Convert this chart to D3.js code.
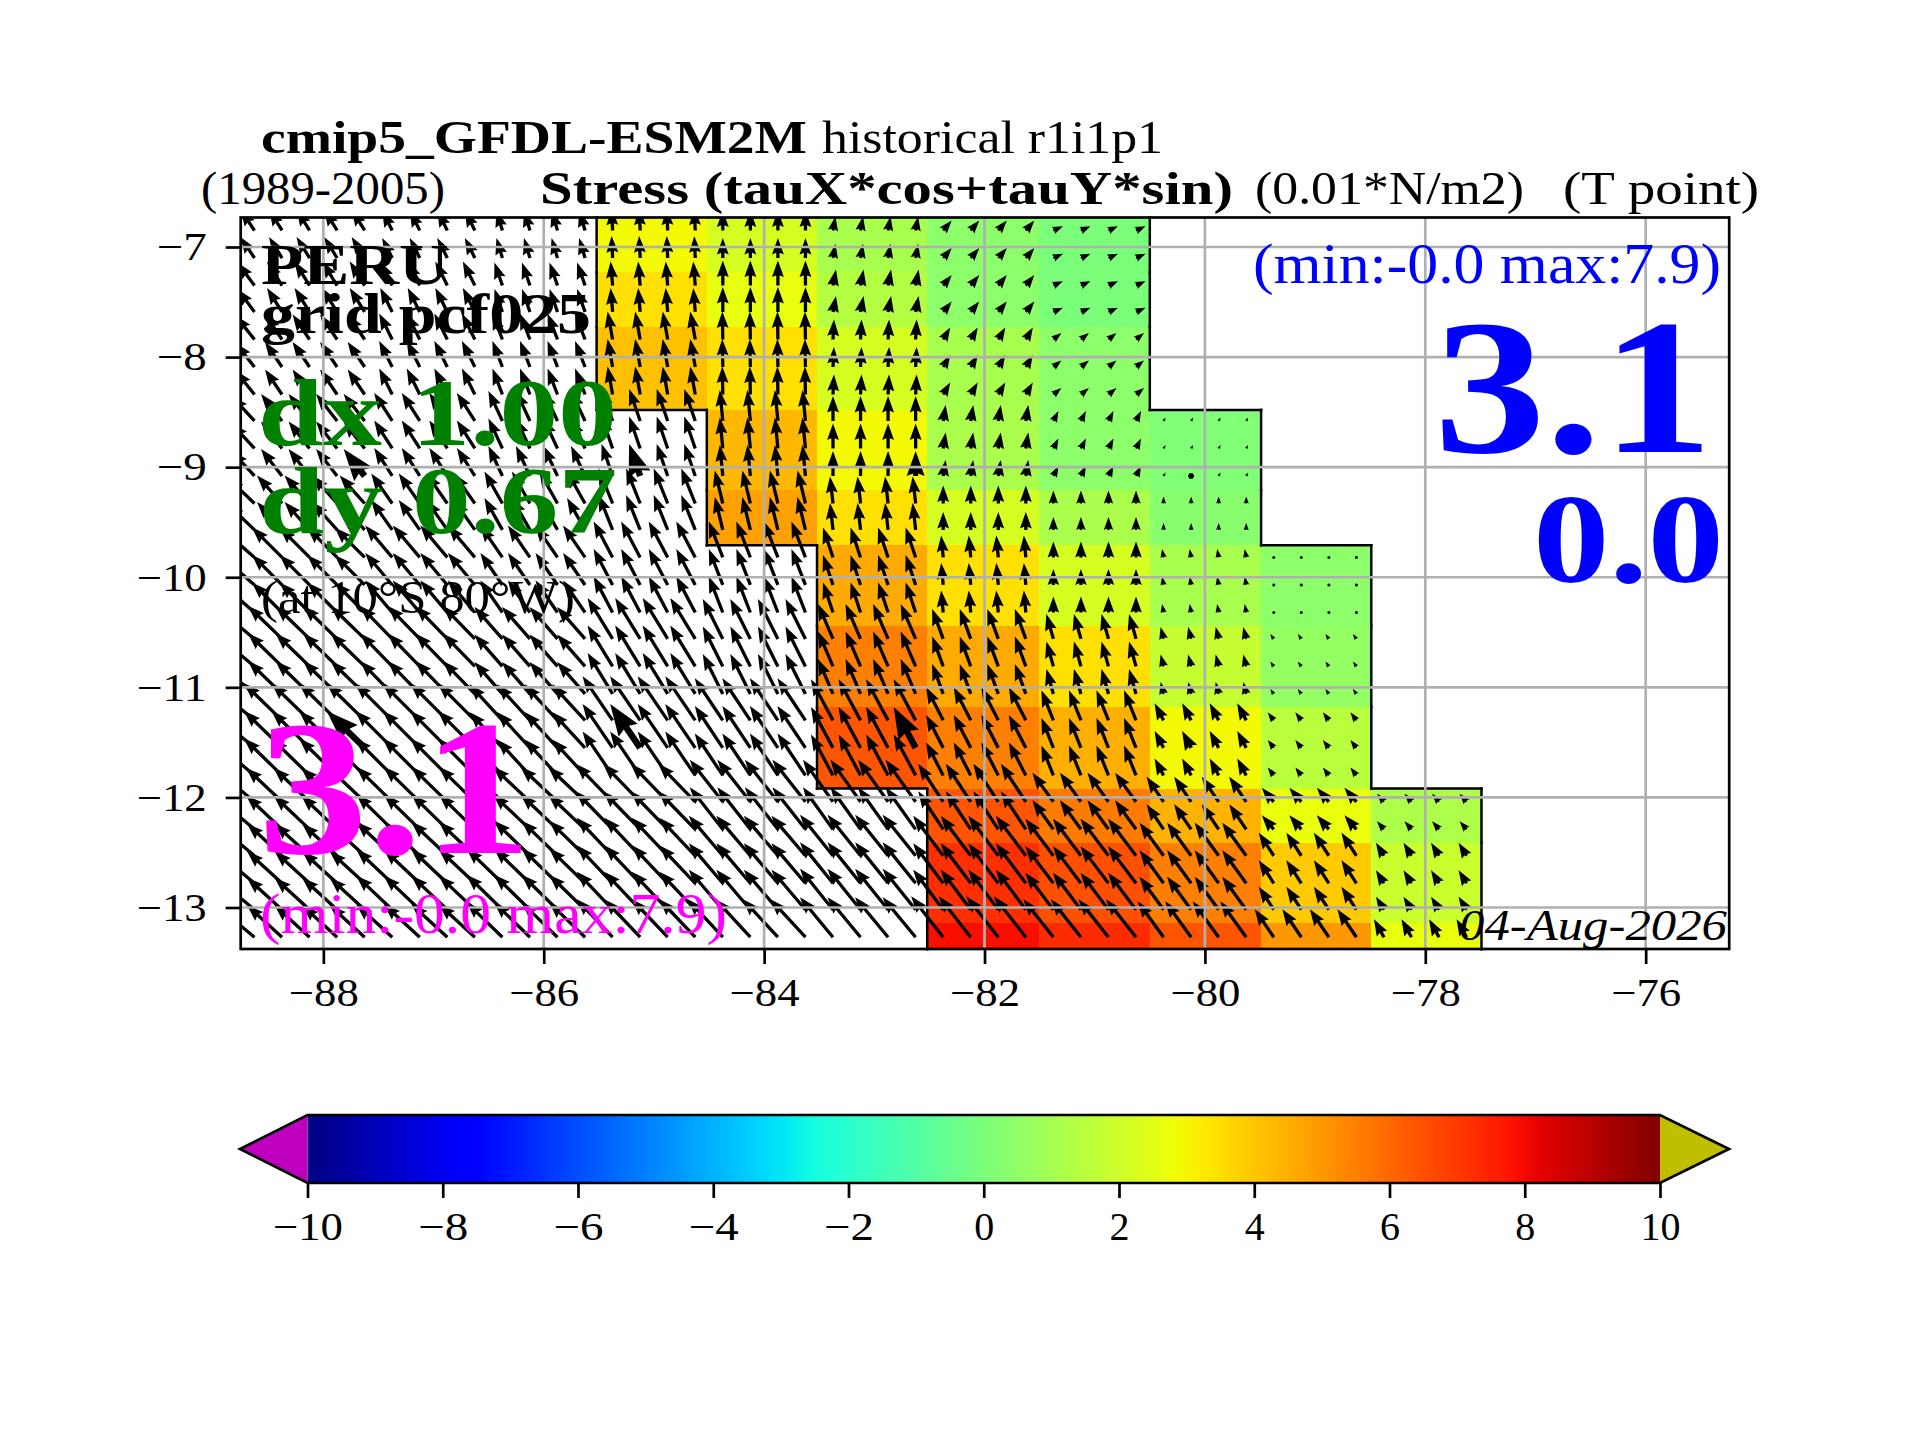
<!DOCTYPE html>
<html>
<head>
	<meta charset="utf-8">
	<title>cmip5 wind stress PERU</title>
	<script src="https://d3js.org/d3.v7.min.js"></script>
	<style>
		body { margin: 0; background: #fff; }
		svg { display: block; }
		text { font-family: "Liberation Serif", serif; }
	</style>
</head>
<body>
	<svg id="fig" width="1920" height="1440"></svg>
	<script type="text/javascript">
		// coarse (1 x 0.67 deg) grid cell edges
		var lonEdges = [-88.75, -88.5, -87.5, -86.5, -85.52, -84.52, -83.52, -82.52, -81.51, -80.5, -79.49, -78.49, -77.49];
		var latEdges = [-6.73, -7.23, -7.73, -8.48, -9.21, -9.71, -10.44, -11.18, -11.92, -12.41, -13.14, -13.38];

		// quarter degree nodes where an arrow is drawn
		var lonNodes = [-88.625, -88.375, -88.125, -87.875, -87.625, -87.375, -87.125, -86.875, -86.625,
			-86.375, -86.125, -85.875, -85.625, -85.375, -85.125, -84.875, -84.625, -84.375, -84.125,
			-83.875, -83.625, -83.375, -83.125, -82.875, -82.625, -82.375, -82.125, -81.875, -81.625,
			-81.375, -81.125, -80.875, -80.625, -80.375, -80.125, -79.875, -79.625, -79.375, -79.125,
			-78.875, -78.625, -78.375, -78.125, -77.875, -77.625];
		var latNodes = [-6.85, -7.10, -7.35, -7.59, -7.84, -8.09, -8.34, -8.58, -8.83, -9.08, -9.33, -9.57,
			-9.82, -10.07, -10.32, -10.56, -10.81, -11.06, -11.30, -11.55, -11.80, -12.04, -12.29,
			-12.53, -12.78, -13.02, -13.27];

		var _ = null;
		// coloured field, one row per latitude band, one value per longitude band
		var stress = [
			[_, _, _, _, 2.9, 2.2, 1.1, 0.4, 0.0, _, _, _],
			[_, _, _, _, 3.46, 2.64, 1.4, 0.4, 0.0, _, _, _],
			[_, _, _, _, 4.13, 3.46, 2.2, 1.1, 0.4, _, _, _],
			[_, _, _, _, _, 4.3, 2.9, 1.15, 0.4, 0.1, _, _],
			[_, _, _, _, _, 4.8, 3.46, 2.2, 1.15, 0.3, _, _],
			[_, _, _, _, _, _, 4.6, 3.46, 2.2, 1.1, 0.4, _],
			[_, _, _, _, _, _, 5.5, 4.6, 3.46, 1.8, 0.6, _],
			[_, _, _, _, _, _, 6.4, 5.5, 4.5, 2.9, 1.5, _],
			[_, _, _, _, _, _, _, 6.4, 5.6, 4.4, 2.7, 1.2],
			[_, _, _, _, _, _, _, 7.2, 6.5, 5.5, 3.9, 1.9],
			[_, _, _, _, _, _, _, 7.9, 7.3, 6.4, 5.0, 2.7]
		];
		var tauX = [
			[-2.8, -2.6, -2.0, -1.2, -0.2, 0.0, 0.5, 1.7, 1.9, _, _, _],
			[-3.4, -3.0, -2.4, -1.6, -0.4, 0.0, 0.6, 1.7, 1.9, _, _, _],
			[-3.8, -3.4, -2.6, -2.0, -1.0, -0.1, 0.2, 1.4, 1.6, _, _, _],
			[-4.6, -4.2, -3.6, -2.8, -2.2, -0.6, 0.0, 0.5, 1.0, 0.4, _, _],
			[-5.4, -5.0, -4.2, -3.6, -2.8, -1.6, -0.6, 0.0, 0.0, 0.0, _, _],
			[-6.4, -6.0, -5.4, -4.4, -3.8, -2.8, -2.0, -0.4, 0.0, -0.3, -0.4, _],
			[-7.2, -6.8, -6.4, -5.6, -5.0, -4.0, -3.0, -2.2, -1.4, -0.6, -0.7, _],
			[-7.6, -7.6, -7.4, -6.6, -6.0, -5.6, -4.4, -3.4, -2.4, -1.8, -1.2, _],
			[-7.6, -7.2, -7.2, -7.4, -7.4, -6.6, -6.0, -5.0, -4.2, -3.4, -2.4, -1.4],
			[-7.2, -7.0, -7.2, -7.2, -7.2, -6.8, -6.6, -6.0, -5.6, -4.8, -3.0, -1.6],
			[-7.2, -7.0, -7.2, -7.2, -7.2, -7.0, -6.6, -6.4, -6.0, -5.2, -3.8, -2.0]
		];
		var tauY = [
			[4.2, 4.2, 4.0, 4.0, 4.4, 4.0, 2.8, 2.0, 0.85, _, _, _],
			[4.6, 4.8, 4.8, 4.6, 4.8, 5.0, 3.2, 2.1, 0.85, _, _, _],
			[4.8, 5.0, 5.2, 5.2, 5.6, 5.6, 4.0, 2.4, 1.3, _, _, _],
			[5.0, 5.4, 5.6, 6.0, 6.4, 6.2, 5.0, 3.2, 2.0, 0.7, _, _],
			[5.2, 5.6, 6.0, 6.4, 7.0, 6.6, 5.4, 3.6, 2.6, 1.4, _, _],
			[5.6, 6.0, 6.4, 6.4, 7.2, 7.2, 6.0, 4.4, 3.2, 1.7, 0.5, _],
			[6.0, 6.6, 6.6, 6.4, 8.2, 8.0, 7.0, 6.0, 5.0, 2.4, 1.0, _],
			[6.4, 7.4, 7.4, 7.2, 8.8, 8.4, 8.2, 6.6, 6.0, 3.4, 1.6, _],
			[6.4, 6.8, 7.0, 7.0, 7.6, 8.4, 8.4, 7.6, 5.8, 5.0, 2.8, 1.6],
			[6.0, 6.4, 6.8, 7.0, 7.6, 8.0, 8.2, 8.0, 7.4, 6.6, 4.6, 2.6],
			[6.0, 6.4, 6.6, 7.0, 7.6, 7.6, 8.0, 8.2, 7.6, 7.2, 5.6, 3.6]
		];
		// every tenth node of the mesh is drawn with a heavier arrow
		var heavyCols = [4, 14, 24, 34, 44];
		var heavyRows = [9, 19];

		var lonTicks = [-88, -86, -84, -82, -80, -78, -76];
		var latTicks = [-7, -8, -9, -10, -11, -12, -13];
		var cbarTicks = [-10, -8, -6, -4, -2, 0, 2, 4, 6, 8, 10];

		var svg = d3.select('#fig');

		var x = d3.scaleLinear().domain([-88.75, -75.242]).range([240.7, 1729.2]);
		var y = d3.scaleLinear().domain([-13.377, -6.732]).range([949, 217.5]);
		var arrowPx = d3.scaleLinear().domain([0, 1]).range([0, 5]);

		// jet, channel by channel
		var jetR = d3.scaleLinear().domain([0, 0.35, 0.66, 0.89, 1]).range([0, 0, 1, 1, 0.5]);
		var jetG = d3.scaleLinear().domain([0, 0.125, 0.375, 0.64, 0.91, 1]).range([0, 0, 1, 1, 0, 0]);
		var jetB = d3.scaleLinear().domain([0, 0.11, 0.34, 0.65, 1]).range([0.5, 1, 1, 0, 0]);
		var toT = d3.scaleLinear().domain([-10, 10]).range([0, 1]);
		function jet(v) {
			var t = toT(v);
			return d3.rgb(jetR(t) * 255, jetG(t) * 255, jetB(t) * 255).formatRgb();
		}

		svg.append('defs').append('clipPath').attr('id', 'plot').append('rect')
			.attr('x', x.range()[0]).attr('y', y.range()[1])
			.attr('width', x.range()[1] - x.range()[0]).attr('height', y.range()[0] - y.range()[1]);

		// field cells
		var cells = [];
		stress.forEach(function (row, r) {
			row.forEach(function (v, c) {
				if (v !== null) cells.push({ r: r, c: c, v: v });
			});
		});
		svg.append('g').attr('clip-path', 'url(#plot)').selectAll('rect')
			.data(cells)
			.enter().append('rect')
			.attr('x', d => x(lonEdges[d.c]))
			.attr('y', d => y(latEdges[d.r]))
			.attr('width', d => x(lonEdges[d.c + 1]) - x(lonEdges[d.c]))
			.attr('height', d => y(latEdges[d.r + 1]) - y(latEdges[d.r]))
			.attr('fill', d => jet(d.v))
			.attr('shape-rendering', 'crispEdges');

		// quiver, shaped as matplotlib does it
		function arrowPath(len, w) {
			var hl = 5 * w, hax = 4.5 * w, hw = 1.8 * w, minsh = hl;
			if (len < w) {
				return d3.range(6).map(function (i) {
					var a = i * Math.PI / 3;
					return [w / 2 * Math.cos(a), w / 2 * Math.sin(a)];
				});
			}
			var s = len < minsh ? len / minsh : 1;
			var L = len < minsh ? minsh : len;
			return [[0, -w / 2], [L - hax, -w / 2], [L - hl, -hw], [L, 0], [L - hl, hw], [L - hax, w / 2], [0, w / 2]]
				.map(p => [p[0] * s, p[1] * s]);
		}
		var nodes = [];
		latNodes.forEach(function (lat, k) {
			var r = d3.bisectLeft(latEdges.map(d => -d), -lat) - 1;
			lonNodes.forEach(function (lon, j) {
				var c = d3.bisectRight(lonEdges, lon) - 1;
				if (tauX[r][c] === null) return;
				nodes.push({
					lon: lon, lat: lat, u: tauX[r][c], v: tauY[r][c],
					heavy: heavyCols.indexOf(j) >= 0 && heavyRows.indexOf(k) >= 0
				});
			});
		});
		svg.append('g').attr('clip-path', 'url(#plot)').selectAll('path')
			.data(nodes)
			.enter().append('path')
			.attr('fill', 'black')
			.attr('transform', function (d) {
				var ang = Math.atan2(-d.v, d.u) * 180 / Math.PI;
				return 'translate(' + x(d.lon) + ',' + y(d.lat) + ') rotate(' + ang + ')';
			})
			.attr('d', function (d) {
				var len = arrowPx(Math.hypot(d.u, d.v));
				return 'M' + arrowPath(len, d.heavy ? 6.4 : 3.3).join('L') + 'Z';
			});

		// coast: every cell edge that has no coloured neighbour
		var coast = [];
		cells.forEach(function (d) {
			var x0 = x(lonEdges[d.c]), x1 = x(lonEdges[d.c + 1]), y0 = y(latEdges[d.r]), y1 = y(latEdges[d.r + 1]);
			var has = function (r, c) { return r >= 0 && r < stress.length && c >= 0 && c < 12 && stress[r][c] !== null; };
			if (!has(d.r - 1, d.c) && d.r > 0) coast.push([x0, y0, x1, y0]);
			if (!has(d.r + 1, d.c) && d.r < stress.length - 1) coast.push([x0, y1, x1, y1]);
			if (!has(d.r, d.c - 1)) coast.push([x0, y0, x0, y1]);
			if (!has(d.r, d.c + 1)) coast.push([x1, y0, x1, y1]);
		});
		svg.append('g').selectAll('line')
			.data(coast)
			.enter().append('line')
			.attr('x1', d => d[0]).attr('y1', d => d[1])
			.attr('x2', d => d[2]).attr('y2', d => d[3])
			.attr('stroke', 'black').attr('stroke-width', 2.5).attr('stroke-linecap', 'square');

		// grid
		var grid = svg.append('g').attr('stroke', '#b0b0b0').attr('stroke-width', 2.7);
		grid.selectAll('.gx').data(lonTicks).enter().append('line').classed('gx', true)
			.attr('x1', d => x(d)).attr('x2', d => x(d))
			.attr('y1', y.range()[0]).attr('y2', y.range()[1]);
		grid.selectAll('.gy').data(latTicks).enter().append('line').classed('gy', true)
			.attr('y1', d => y(d)).attr('y2', d => y(d))
			.attr('x1', x.range()[0]).attr('x2', x.range()[1]);

		// axes; the long minus of the original face is had by stretching the label
		var tickFmt = d3.format('d');
		function styleAxis(ax) {
			ax.select('.domain').remove();
			ax.selectAll('line').attr('stroke-width', 2.7);
			ax.selectAll('text')
				.style('font-size', '40px').attr('fill', 'black')
				.attr('lengthAdjust', 'spacingAndGlyphs')
				.attr('textLength', d => (d < 0 ? 30 : 0) + String(Math.abs(d)).length * 20);
		}
		var axB = svg.append('g').attr('transform', 'translate(0,949)')
			.call(d3.axisBottom(x).tickValues(lonTicks).tickFormat(tickFmt).tickSize(15).tickPadding(13.5).tickSizeOuter(0));
		var axL = svg.append('g').attr('transform', 'translate(240.7,0)')
			.call(d3.axisLeft(y).tickValues(latTicks).tickFormat(tickFmt).tickSize(15).tickPadding(19).tickSizeOuter(0));
		styleAxis(axB);
		styleAxis(axL);
		svg.append('rect')
			.attr('x', x.range()[0]).attr('y', y.range()[1])
			.attr('width', x.range()[1] - x.range()[0]).attr('height', y.range()[0] - y.range()[1])
			.attr('fill', 'none').attr('stroke', 'black').attr('stroke-width', 2.7);

		// colour bar
		var cb = d3.scaleLinear().domain([-10, 10]).range([307.5, 1660]);
		var cbTop = 1115, cbBot = 1183, cbMid = 1149;
		var grad = svg.select('defs').append('linearGradient').attr('id', 'jetbar');
		grad.selectAll('stop').data(d3.range(-10, 10.01, 0.25)).enter().append('stop')
			.attr('offset', d => toT(d)).attr('stop-color', d => jet(d));
		svg.append('rect').attr('x', cb(-10)).attr('y', cbTop)
			.attr('width', cb(10) - cb(-10)).attr('height', cbBot - cbTop).attr('fill', 'url(#jetbar)');
		svg.append('path').attr('fill', '#bf00bf')
			.attr('d', 'M' + [[cb(-10), cbTop], [240, cbMid], [cb(-10), cbBot]].join('L') + 'Z');
		svg.append('path').attr('fill', '#bfbf00')
			.attr('d', 'M' + [[cb(10), cbTop], [1729, cbMid], [cb(10), cbBot]].join('L') + 'Z');
		svg.append('path').attr('fill', 'none').attr('stroke', 'black').attr('stroke-width', 2.7)
			.attr('d', 'M' + [[cb(-10), cbTop], [cb(10), cbTop], [1729, cbMid], [cb(10), cbBot], [cb(-10), cbBot], [240, cbMid]].join('L') + 'Z');
		var axC = svg.append('g').attr('transform', 'translate(0,' + cbBot + ')')
			.call(d3.axisBottom(cb).tickValues(cbarTicks).tickFormat(tickFmt).tickSize(15).tickPadding(14).tickSizeOuter(0));
		styleAxis(axC);

		// all the labels round and inside the map, fitted to the width they have in the figure
		var labels = [
			{ t: 'cmip5_GFDL-ESM2M', x0: 261, x1: 807, y: 153, s: 47, w: 'bold' },
			{ t: 'historical r1i1p1', x0: 822, x1: 1163, y: 153, s: 47 },
			{ t: '(1989-2005)', x0: 201, x1: 445, y: 204, s: 47 },
			{ t: 'Stress (tauX*cos+tauY*sin)', x0: 540, x1: 1233, y: 204, s: 47, w: 'bold' },
			{ t: '(0.01*N/m2)', x0: 1255, x1: 1524, y: 204, s: 47 },
			{ t: '(T point)', x0: 1563, x1: 1759, y: 204, s: 47 },
			{ t: 'PERU', x0: 261, x1: 449, y: 284, s: 58, w: 'bold' },
			{ t: 'grid pcf025', x0: 261, x1: 591, y: 333, s: 58, w: 'bold' },
			{ t: 'dx 1.00', x0: 258, x1: 617, y: 445, s: 96, w: 'bold', c: '#008000' },
			{ t: 'dy 0.67', x0: 259, x1: 617, y: 533, s: 96, w: 'bold', c: '#008000' },
			{ t: '(at 10\u00b0S 80\u00b0W)', x0: 261, x1: 575, y: 613, s: 47 },
			{ t: '3.1', x0: 258, x1: 532, y: 853, s: 192, w: 'bold', c: '#ff00ff' },
			{ t: '(min:-0.0 max:7.9)', x0: 260, x1: 727, y: 933, s: 56, c: '#ff00ff' },
			{ t: '(min:-0.0 max:7.9)', x0: 1253, x1: 1721, y: 283, s: 56, c: '#0000ff' },
			{ t: '3.1', x0: 1434, x1: 1713, y: 452, s: 192, w: 'bold', c: '#0000ff' },
			{ t: '0.0', x0: 1533, x1: 1724, y: 582, s: 126, w: 'bold', c: '#0000ff' },
			{ t: '04-Aug-2026', x0: 1459, x1: 1727, y: 940, s: 44, st: 'italic' }
		];
		svg.append('g').selectAll('text')
			.data(labels)
			.enter().append('text')
			.attr('x', d => d.x0)
			.attr('y', d => d.y)
			.attr('textLength', d => d.x1 - d.x0)
			.attr('lengthAdjust', 'spacingAndGlyphs')
			.attr('fill', d => d.c || 'black')
			.style('font-size', d => d.s + 'px')
			.style('font-weight', d => d.w || 'normal')
			.style('font-style', d => d.st || 'normal')
			.text(d => d.t);
	</script>
</body>
</html>
